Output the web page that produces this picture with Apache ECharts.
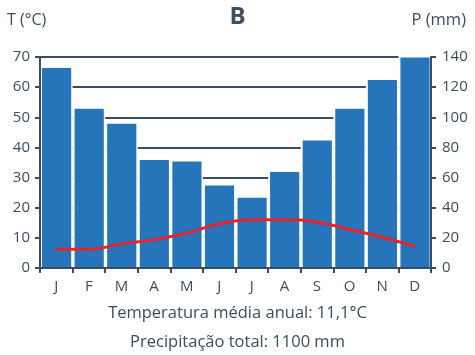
<!DOCTYPE html>
<html>
<head>
<meta charset="utf-8">
<script src="https://cdn.jsdelivr.net/npm/echarts@6/dist/echarts.min.js"></script>
<style>
  html, body { margin: 0; padding: 0; background: #fff; }
  #chart { width: 475px; height: 355px; }
</style>
</head>
<body>
<div id="chart"></div>
<script>
// Climograph: monthly precipitation (bars, right axis) and mean temperature (line, left axis)
const months = ['J', 'F', 'M', 'A', 'M', 'J', 'J', 'A', 'S', 'O', 'N', 'D'];
const precipitation = [133, 106, 96, 72, 71, 55, 47, 64, 85, 106, 125, 140]; // mm
const temperature = [6.2, 6.2, 8.0, 9.4, 11.6, 14.6, 16.0, 16.0, 15.2, 12.8, 10.2, 7.2]; // °C
const tempTicks = { min: 0, max: 70, interval: 10 };
const precTicks = { min: 0, max: 140, interval: 20 };

const titleText = 'B';
const tempName = 'T (°C)';
const precName = 'P (mm)';
const noteTemp = 'Temperatura média anual: 11,1°C';
const notePrec = 'Precipitação total: 1100 mm';

const ink = '#3b4d5e';
const barBlue = '#2675bb';
const font = '"Open Sans", sans-serif';

const chart = echarts.init(document.getElementById('chart'), null, { renderer: 'canvas' });

// Each bar: a white backing (hides the gridlines across its whole column) and an inset blue block.
function renderBar(params, api) {
  const idx = api.value(0);
  const val = api.value(1);
  const base = api.coord([idx, 0]);
  const top = api.coord([idx, val]);
  const band = api.size([1, 0])[0];
  const left = base[0] - band / 2;
  return {
    type: 'group',
    children: [
      {
        type: 'rect',
        shape: { x: left, y: top[1] - 2, width: band, height: base[1] - top[1] + 2 },
        style: { fill: '#ffffff' }
      },
      {
        type: 'rect',
        shape: { x: left + 2, y: top[1] + 0.5, width: band - 3.4, height: base[1] - top[1] - 0.5 },
        style: { fill: barBlue }
      }
    ]
  };
}

chart.setOption({
  backgroundColor: '#fff',
  animation: false,
  textStyle: { fontFamily: font, color: ink },
  grid: { left: 40, right: 44, top: 57, bottom: 87, containLabel: false },
  graphic: [
    { type: 'text', left: 'center', top: 5, style: { text: titleText, font: 'bold 24px ' + font, fill: ink } },
    { type: 'text', left: 7, top: 12, style: { text: tempName, font: '16px ' + font, fill: ink } },
    { type: 'text', right: 9, top: 12, style: { text: precName, font: '16.5px ' + font, fill: ink } },
    { type: 'text', left: 'center', top: 305, style: { text: noteTemp, font: '16.5px ' + font, fill: ink } },
    { type: 'text', left: 'center', top: 334, style: { text: notePrec, font: '16.5px ' + font, fill: ink } }
  ],
  xAxis: {
    type: 'category',
    data: months,
    z: 5,
    boundaryGap: true,
    axisLine: { lineStyle: { color: ink, width: 2 } },
    axisTick: { show: true, alignWithLabel: false, length: 5, lineStyle: { color: ink, width: 2 } },
    axisLabel: { color: ink, fontSize: 15, margin: 11, fontFamily: font },
    splitLine: { show: false }
  },
  yAxis: [
    {
      type: 'value', position: 'left', z: 5,
      min: tempTicks.min, max: tempTicks.max, interval: tempTicks.interval,
      axisLine: { show: true, lineStyle: { color: ink, width: 2 } },
      axisTick: { show: true, length: 5, lineStyle: { color: ink, width: 2 } },
      axisLabel: { color: ink, fontSize: 15, margin: 10, fontFamily: font },
      splitLine: { show: false }
    },
    {
      type: 'value', position: 'right', z: 5,
      min: precTicks.min, max: precTicks.max, interval: precTicks.interval,
      axisLine: { show: true, lineStyle: { color: ink, width: 2 } },
      axisTick: { show: true, length: 5, lineStyle: { color: ink, width: 2 } },
      axisLabel: { color: ink, fontSize: 15, margin: 11, fontFamily: font },
      splitLine: { show: false }
    },
    {
      // gridlines only, kept underneath the bars
      type: 'value', position: 'left', z: 0,
      min: tempTicks.min, max: tempTicks.max, interval: tempTicks.interval,
      axisLine: { show: false }, axisTick: { show: false }, axisLabel: { show: false },
      splitLine: { show: true, lineStyle: { color: ink, width: 2 } }
    }
  ],
  series: [
    {
      name: 'P', type: 'custom', yAxisIndex: 1, z: 2,
      renderItem: renderBar,
      encode: { x: 0, y: 1 },
      data: precipitation.map((v, i) => [i, v])
    },
    {
      name: 'T', type: 'line', yAxisIndex: 0, z: 6,
      data: temperature,
      smooth: true,
      symbol: 'none',
      lineStyle: { color: '#e8232b', width: 3 }
    }
  ]
});
</script>
</body>
</html>
